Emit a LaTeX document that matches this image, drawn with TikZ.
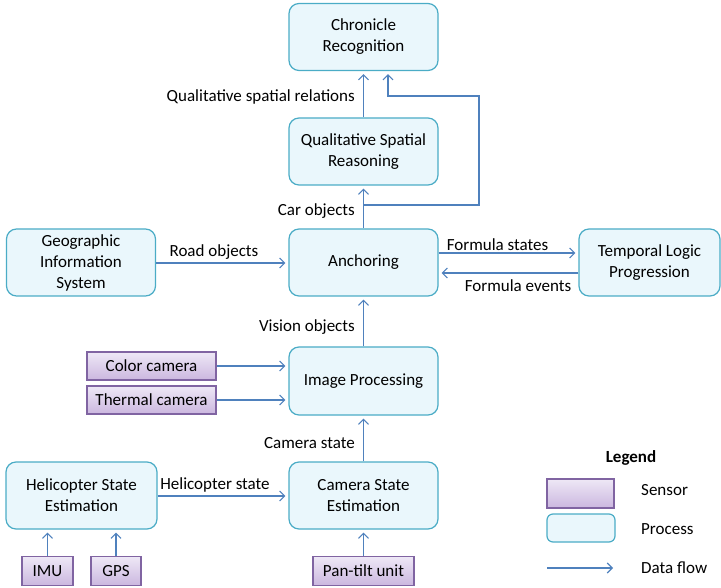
\documentclass[tikz,border=0pt]{standalone}
\usepackage{fontspec}
\setmainfont{Carlito}
\usetikzlibrary{
  calc,positioning,
  arrows,arrows.meta
}
\definecolor{flowblue}{HTML}{4F81BD}
\definecolor{procline}{HTML}{4BACC6}
\definecolor{procfill}{HTML}{EAF7FC}
\definecolor{sensline}{HTML}{8064A2}
\definecolor{senstop}{HTML}{EEE8F6}
\definecolor{sensbot}{HTML}{CBB7DF}

\begin{document}
\begin{tikzpicture}[x=1pt,y=-1pt,
  font=\fontsize{17}{21}\selectfont,
  process/.style={draw=procline,fill=procfill,line width=1.2pt,rounded corners=10pt,
    minimum width=149pt,minimum height=67pt,align=center,inner sep=0pt},
  sensor/.style={draw=sensline,line width=1.2pt,top color=senstop,bottom color=sensbot,
    minimum height=29pt,inner sep=0pt},
  flow/.style={draw=flowblue,line width=1.1pt,shorten >=3pt,
    -{Straight Barb[length=5pt,width=10pt]}},
  lbl/.style={inner sep=0pt}
]
\useasboundingbox (0,0) rectangle (721,588);

\node[process] (cr)  at (363.5,37)    {Chronicle\\Recognition};
\node[process] (qsr) at (363.5,151.5) {Qualitative Spatial\\Reasoning};
\node[process] (anc) at (363.5,262.5) {Anchoring};
\node[process] (gis) at (81,262.5)    {Geographic\\Information\\System};
\node[process,minimum width=141pt] (tlp) at (649.5,262.5) {Temporal Logic\\Progression};
\node[process,minimum height=68pt] (ip)  at (363.5,381)   {Image Processing};
\node[process] (cse) at (363.5,495.5) {Camera State\\Estimation};
\node[process,minimum width=151pt] (hse) at (81.5,495.5) {Helicopter State\\Estimation};

\node[sensor,minimum width=51pt]  (imu) at (47.5,571)  {IMU};
\node[sensor,minimum width=50pt]  (gps) at (116,571)   {GPS};
\node[sensor,minimum width=101pt] (ptu) at (363.5,571) {Pan-tilt unit};
\node[sensor,minimum width=129pt,minimum height=28pt] (cc) at (151.5,366) {Color camera};
\node[sensor,minimum width=129pt,minimum height=28pt] (tc) at (151.5,400) {Thermal camera};

\draw[flow] (qsr.north) -- (cr.south);
\node[lbl,anchor=east] (lqsr) at (355,97) {Qualitative spatial relations};
\draw[flow] (anc.north) -- (qsr.south);
\node[lbl,anchor=east] (lcar) at (355,211) {Car objects};
\coordinate (split) at (363.5,205);
\draw[flow] (split) -| (479,96) -| ([xshift=24.5pt]cr.south);

\draw[flow] (gis.east |- 0,263) -- (anc.west |- 0,263);
\node[lbl] (lroad) at (214,252) {Road objects};
\draw[flow] (anc.east |- 0,253) -- (tlp.west |- 0,253);
\node[lbl] (lfs) at (497.5,245) {Formula states};
\draw[flow] (tlp.west |- 0,273) -- (anc.east |- 0,273);
\node[lbl] (lfe) at (518,286) {Formula events};

\draw[flow] (ip.north) -- (anc.south);
\node[lbl,anchor=east] (lvis) at (355,327) {Vision objects};
\draw[flow] (cc.east) -- (ip.west |- cc.east);
\draw[flow] (tc.east) -- (ip.west |- tc.east);
\draw[flow] (cse.north) -- (ip.south);
\node[lbl,anchor=east] (lcam) at (355,443) {Camera state};
\draw[flow] (hse.east |- 0,496) -- (cse.west |- 0,496);
\node[lbl] (lheli) at (215,485) {Helicopter state};

\draw[flow] (imu.north) -- (imu.north |- hse.south);
\draw[flow] (gps.north) -- (gps.north |- hse.south);
\draw[flow] (ptu.north) -- (cse.south);

\node[lbl,font=\fontsize{17}{21}\selectfont\bfseries] (legend) at (631,458) {Legend};
\node[sensor,minimum width=67pt] (ksens) at (580.5,493.5) {};
\node[process,minimum width=68pt,minimum height=28pt,rounded corners=6pt] (kproc) at (581,528) {};
\coordinate (kfrom) at (547,568);
\coordinate (kto) at (616,568);
\draw[flow] (kfrom) -- (kto);
\node[lbl,anchor=west] (lsens) at (641,490) {Sensor};
\node[lbl,anchor=west] (lproc) at (641,529) {Process};
\node[lbl,anchor=west] (lflow) at (641,568) {Data flow};
\end{tikzpicture}
\end{document}
